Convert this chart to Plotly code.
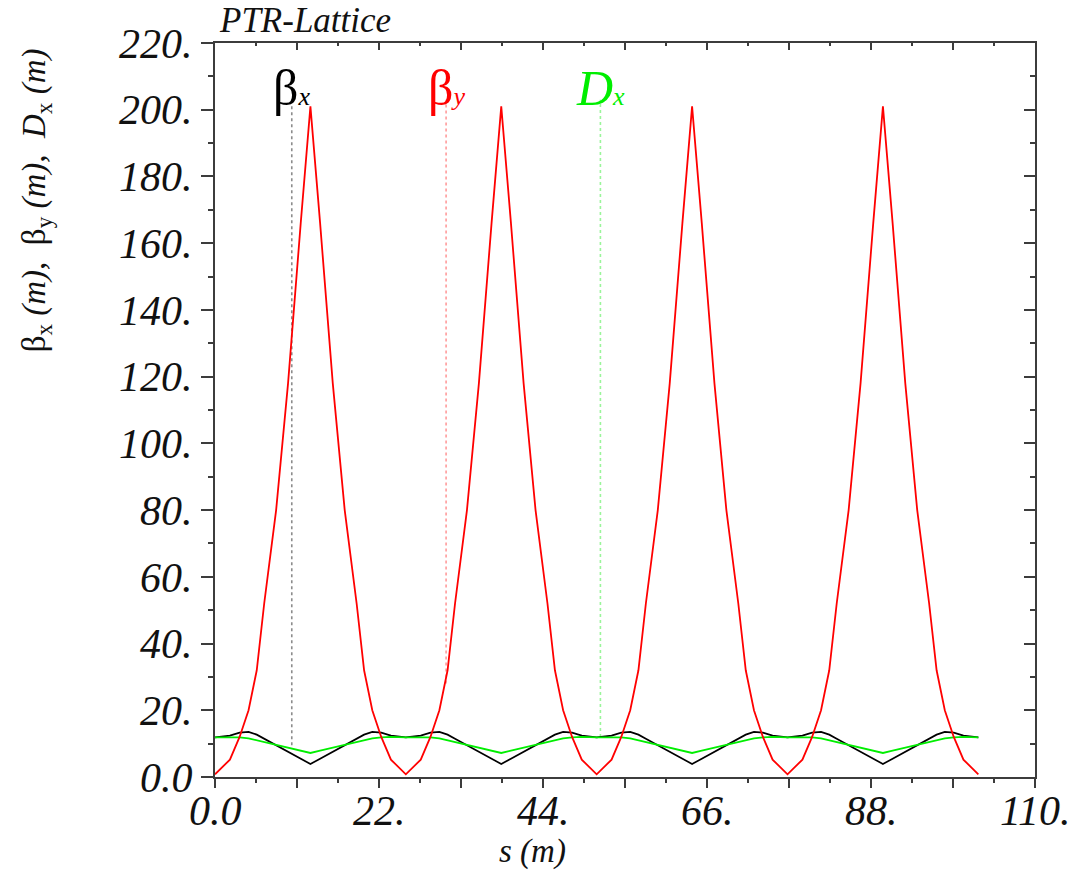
import plotly.graph_objects as go

# Lattice functions along the beamline, four identical cells
s = [
    0.0, 2.0, 3.3, 4.5, 5.6, 6.6, 8.2, 9.8, 11.5, 12.8, 14.1, 15.8, 17.4, 19.0, 20.0, 21.1, 22.3, 23.6,
    25.6, 27.6, 28.9, 30.1, 31.2, 32.2, 33.8, 35.4, 37.1, 38.4, 39.7, 41.4, 43.0, 44.6, 45.6, 46.7, 47.9, 49.2,
    51.2, 53.2, 54.5, 55.7, 56.8, 57.8, 59.4, 61.0, 62.7, 64.0, 65.3, 67.0, 68.6, 70.2, 71.2, 72.3, 73.5, 74.8,
    76.8, 78.8, 80.1, 81.3, 82.4, 83.4, 85.0, 86.6, 88.3, 89.6, 90.9, 92.6, 94.2, 95.8, 96.8, 97.9, 99.1, 100.4,
    102.4,
]

beta_x = [
    11.9, 12.4, 13.3, 13.5, 12.7, 11.5, 9.5, 7.6, 5.5, 3.9, 5.5, 7.6, 9.5, 11.5, 12.7, 13.5, 13.3, 12.4,
    11.9, 12.4, 13.3, 13.5, 12.7, 11.5, 9.5, 7.6, 5.5, 3.9, 5.5, 7.6, 9.5, 11.5, 12.7, 13.5, 13.3, 12.4,
    11.9, 12.4, 13.3, 13.5, 12.7, 11.5, 9.5, 7.6, 5.5, 3.9, 5.5, 7.6, 9.5, 11.5, 12.7, 13.5, 13.3, 12.4,
    11.9, 12.4, 13.3, 13.5, 12.7, 11.5, 9.5, 7.6, 5.5, 3.9, 5.5, 7.6, 9.5, 11.5, 12.7, 13.5, 13.3, 12.4,
    11.9,
]

beta_y = [
    0.8, 5.2, 12.0, 20.0, 32.0, 52.0, 80.0, 118.0, 166.0, 201.0, 166.0, 118.0, 80.0, 52.0, 32.0, 20.0, 12.0, 5.2,
    0.8, 5.2, 12.0, 20.0, 32.0, 52.0, 80.0, 118.0, 166.0, 201.0, 166.0, 118.0, 80.0, 52.0, 32.0, 20.0, 12.0, 5.2,
    0.8, 5.2, 12.0, 20.0, 32.0, 52.0, 80.0, 118.0, 166.0, 201.0, 166.0, 118.0, 80.0, 52.0, 32.0, 20.0, 12.0, 5.2,
    0.8, 5.2, 12.0, 20.0, 32.0, 52.0, 80.0, 118.0, 166.0, 201.0, 166.0, 118.0, 80.0, 52.0, 32.0, 20.0, 12.0, 5.2,
    0.8,
]

d_x = [
    11.9, 12.0, 11.9, 11.6, 11.0, 10.5, 9.6, 8.8, 7.9, 7.2, 7.9, 8.8, 9.6, 10.5, 11.0, 11.6, 11.9, 12.0,
    11.9, 12.0, 11.9, 11.6, 11.0, 10.5, 9.6, 8.8, 7.9, 7.2, 7.9, 8.8, 9.6, 10.5, 11.0, 11.6, 11.9, 12.0,
    11.9, 12.0, 11.9, 11.6, 11.0, 10.5, 9.6, 8.8, 7.9, 7.2, 7.9, 8.8, 9.6, 10.5, 11.0, 11.6, 11.9, 12.0,
    11.9, 12.0, 11.9, 11.6, 11.0, 10.5, 9.6, 8.8, 7.9, 7.2, 7.9, 8.8, 9.6, 10.5, 11.0, 11.6, 11.9, 12.0,
    11.9,
]

# Axis ticks
x_tick_vals = [0, 11, 22, 33, 44, 55, 66, 77, 88, 99, 110]
x_label_vals = [0, 22, 44, 66, 88, 110]
x_label_text = ["0.0", "22.", "44.", "66.", "88.", "110."]
y_tick_vals = [0, 20, 40, 60, 80, 100, 120, 140, 160, 180, 200, 220]
y_tick_text = ["0.0", "20.", "40.", "60.", "80.", "100.", "120.", "140.", "160.", "180.", "200.", "220."]

# Curve label positions and the extent of their dotted marker lines
label_s = [10.3, 31.0, 51.7]
label_line_top = [203.0, 203.0, 203.0]
label_line_bottom = [9.5, 28.0, 12.0]

SERIF = "Liberation Serif"
AXIS_COLOR = "#3c3c3c"
TEXT_COLOR = "#111111"
BLACK = "#000000"
RED = "#ff0000"
GREEN = "#00ee00"

fig = go.Figure()

# Label marker lines (dotted)
marker_colors = ["#8c8c8c", "#ff9a9a", "#9af59a"]
for xs, top, bot, col in zip(label_s, label_line_top, label_line_bottom, marker_colors):
    fig.add_trace(go.Scatter(
        x=[xs, xs], y=[bot, top], mode="lines",
        line=dict(color=col, width=1.6, dash="dot"),
        showlegend=False, hoverinfo="skip",
    ))

fig.add_trace(go.Scatter(x=s, y=beta_x, mode="lines", name="βx",
                         line=dict(color=BLACK, width=1.7), showlegend=False))
fig.add_trace(go.Scatter(x=s, y=d_x, mode="lines", name="Dx",
                         line=dict(color=GREEN, width=1.8), showlegend=False))
fig.add_trace(go.Scatter(x=s, y=beta_y, mode="lines", name="βy",
                         line=dict(color=RED, width=1.8), showlegend=False))

# helper trace so the mirrored frame axes are laid out
fig.add_trace(go.Scatter(x=[0], y=[0], xaxis="x2", yaxis="y2", mode="markers",
                         marker=dict(opacity=0), showlegend=False, hoverinfo="skip"))

tickfont = dict(family=SERIF, size=42, color=TEXT_COLOR, style="italic")

fig.update_layout(
    width=1073, height=873,
    margin=dict(l=215, r=38, t=43, b=96),
    paper_bgcolor="white", plot_bgcolor="white",
    showlegend=False,
    xaxis=dict(
        range=[0, 110], tickmode="array", tickvals=x_tick_vals, showticklabels=False,
        ticks="outside", ticklen=9, tickwidth=2, tickcolor=AXIS_COLOR,
        minor=dict(dtick=5.5, tick0=0, ticks="outside", ticklen=4, tickwidth=2, tickcolor=AXIS_COLOR),
        showline=True, linewidth=2, linecolor=AXIS_COLOR, showgrid=False, zeroline=False,
        fixedrange=True,
    ),
    yaxis=dict(
        range=[0, 220], tickmode="array", tickvals=y_tick_vals, ticktext=y_tick_text,
        ticks="outside", ticklen=12, tickwidth=2, tickcolor=AXIS_COLOR,
        minor=dict(dtick=10, tick0=0, ticks="outside", ticklen=5, tickwidth=2, tickcolor=AXIS_COLOR),
        showline=True, linewidth=2, linecolor=AXIS_COLOR, showgrid=False, zeroline=False,
        tickfont=tickfont, fixedrange=True,
    ),
    xaxis2=dict(
        range=[0, 110], overlaying="x", side="top", tickmode="array", tickvals=x_tick_vals,
        showticklabels=False, ticks="inside", ticklen=7, tickwidth=2, tickcolor=AXIS_COLOR,
        minor=dict(dtick=5.5, tick0=0, ticks="inside", ticklen=3, tickwidth=2, tickcolor=AXIS_COLOR),
        showline=True, linewidth=2, linecolor=AXIS_COLOR, showgrid=False, zeroline=False,
        fixedrange=True,
    ),
    yaxis2=dict(
        range=[0, 220], overlaying="y", side="right", tickmode="array", tickvals=y_tick_vals,
        showticklabels=False, ticks="inside", ticklen=11, tickwidth=2, tickcolor=AXIS_COLOR,
        minor=dict(dtick=10, tick0=0, ticks="inside", ticklen=5, tickwidth=2, tickcolor=AXIS_COLOR),
        showline=True, linewidth=2, linecolor=AXIS_COLOR, showgrid=False, zeroline=False,
        fixedrange=True,
    ),
)

annotations = [
    dict(text="<i>PTR-Lattice</i>", xref="paper", yref="paper", x=0.002, y=1.031,
         xanchor="left", yanchor="middle", showarrow=False,
         font=dict(family=SERIF, size=35, color=TEXT_COLOR)),
    dict(text="<i>s (m)</i>", xref="paper", yref="paper", x=0.387, y=-0.102,
         xanchor="center", yanchor="middle", showarrow=False,
         font=dict(family=SERIF, size=33, color=TEXT_COLOR)),
    dict(text="β<sub>x</sub> <i>(m),</i>  β<sub>y</sub> <i>(m),</i>  <i>D</i><sub>x</sub> <i>(m)</i>",
         xref="paper", yref="paper", x=-0.218, y=0.786, textangle=-90,
         xanchor="center", yanchor="middle", showarrow=False,
         font=dict(family=SERIF, size=33, color=TEXT_COLOR)),
]

# bottom axis tick labels, every other major tick
for xv, txt in zip(x_label_vals, x_label_text):
    annotations.append(dict(
        text=txt, xref="x", yref="paper", x=xv, y=0, yshift=-34,
        xanchor="center", yanchor="middle", showarrow=False,
        font=dict(family=SERIF, size=42, color=TEXT_COLOR, style="italic"),
    ))

label_texts = [
    "β<span style='font-size:26px'><i>x</i></span>",
    "β<span style='font-size:26px'><i>y</i></span>",
    "<i>D</i><span style='font-size:26px'><i>x</i></span>",
]
label_colors = [BLACK, RED, GREEN]
for xs, txt, col in zip(label_s, label_texts, label_colors):
    annotations.append(dict(
        text=txt, xref="x", yref="y", x=xs, y=206.5, xanchor="center", yanchor="middle",
        showarrow=False, font=dict(family=SERIF, size=50, color=col),
    ))

fig.update_layout(annotations=annotations)

fig.write_html("out.html")
